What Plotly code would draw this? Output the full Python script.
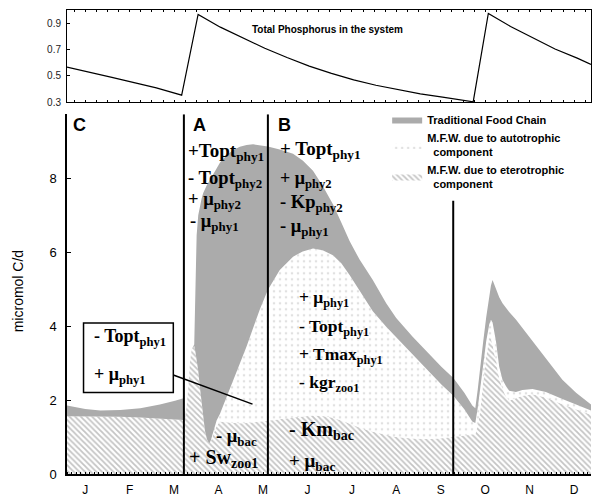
import plotly.graph_objects as go

# ---------------- data (x in months, 0 = 1 Jan) ----------------
month_labels = ["J", "F", "M", "A", "M", "J", "J", "A", "S", "O", "N", "D"]
month_centers = [0.5 + i for i in range(12)]

# Total phosphorus (top panel)
tp_month = [0.09, 0.6, 1.1, 1.6, 2.1, 2.67, 3.04, 3.54, 4.04, 4.54, 5.04, 5.54, 6.04,
            6.54, 7.04, 7.54, 8.04, 8.54, 9.04, 9.23, 9.57, 10.07, 10.57, 11.07, 11.57, 11.88]
tp_value = [0.567, 0.53, 0.49, 0.45, 0.41, 0.355, 0.967, 0.87, 0.79, 0.71, 0.64, 0.575, 0.52,
            0.47, 0.43, 0.395, 0.365, 0.34, 0.315, 0.305, 0.974, 0.875, 0.79, 0.705, 0.635, 0.588]

# Carbon flows (main panel): cumulative levels
flow_month = [0.09, 0.50, 0.84, 1.29, 1.74, 2.18, 2.52, 2.71, 2.745, 2.78, 2.82, 2.86, 2.895,
              2.953, 2.98, 3.007, 3.043, 3.081, 3.119, 3.155, 3.194, 3.238, 3.29, 3.328, 3.366,
              3.407, 3.456, 3.53, 3.681, 3.822, 3.979, 4.13, 4.278, 4.428, 4.608, 4.877, 5.176,
              5.393, 5.625, 5.842, 6.074, 6.262, 6.448, 6.673, 6.971, 7.272, 7.497, 7.862, 8.244,
              8.513, 8.783, 9.03, 9.209, 9.277, 9.333, 9.389, 9.456, 9.523, 9.591, 9.629, 9.665,
              9.741, 9.815, 9.889, 9.966, 10.039, 10.19, 10.338, 10.563, 10.864, 11.236, 11.544, 11.88]
# top of heterotrophic microbial food web (M.F.W.) layer
hetero_level = [1.56, 1.56, 1.56, 1.55, 1.53, 1.50, 1.48, 1.46, 1.49, 1.80, 2.34, 3.06, 3.37,
                3.46, 3.30, 3.10, 2.79, 2.34, 1.89, 1.55, 1.17, 0.95, 0.82, 0.90, 1.00,
                1.15, 1.30, 1.42, 1.40, 1.38, 1.37, 1.38, 1.40, 1.41, 1.43, 1.48, 1.53,
                1.56, 1.58, 1.57, 1.52, 1.45, 1.36, 1.26, 1.14, 1.05, 1.00, 0.96, 0.95,
                0.97, 1.00, 1.04, 1.07, 1.08, 1.30, 1.75, 2.50, 3.20, 3.68, 3.65, 3.50,
                3.00, 2.60, 2.30, 2.10, 1.98, 2.05, 2.12, 2.16, 2.07, 1.89, 1.75, 1.60]
# top of autotrophic M.F.W. layer (stacked on heterotrophic)
auto_level = [1.56, 1.56, 1.56, 1.55, 1.53, 1.50, 1.48, 1.46, 1.49, 1.80, 2.34, 3.06, 3.37,
              3.46, 3.30, 3.10, 2.79, 2.34, 1.89, 1.55, 1.17, 0.95, 0.82, 0.92, 1.08,
              1.27, 1.45, 1.62, 2.07, 2.50, 2.96, 3.45, 3.95, 4.45, 4.98, 5.52, 5.88,
              6.02, 6.10, 6.05, 5.92, 5.70, 5.38, 4.95, 4.40, 3.98, 3.70, 3.25, 2.75,
              2.42, 2.12, 1.75, 1.42, 1.38, 1.80, 2.30, 2.95, 3.60, 4.05, 4.17, 4.10,
              3.60, 2.90, 2.55, 2.38, 2.25, 2.22, 2.27, 2.30, 2.22, 2.03, 1.88, 1.72]
# top of traditional food chain layer (total)
total_level = [1.85, 1.76, 1.72, 1.73, 1.78, 1.88, 1.98, 2.05, 1.55, 1.80, 2.34, 3.06, 3.37,
               3.50, 5.00, 6.46, 7.00, 7.25, 7.45, 7.60, 7.72, 7.82, 7.92, 8.00, 8.08,
               8.17, 8.27, 8.42, 8.62, 8.76, 8.85, 8.90, 8.92, 8.90, 8.86, 8.78, 8.66,
               8.48, 8.20, 7.80, 7.30, 6.80, 6.30, 5.80, 5.25, 4.62, 4.22, 3.72, 3.23,
               2.90, 2.60, 2.20, 1.85, 1.78, 2.30, 2.95, 3.60, 4.25, 4.85, 5.10, 5.25,
               5.00, 4.78, 4.62, 4.50, 4.38, 4.18, 3.95, 3.60, 3.15, 2.55, 2.20, 1.88]

# period boundaries (months) and their top (micromol C/d)
boundary_month = [2.72, 4.61, 8.78]
boundary_top = [9.73, 9.73, 7.39]

XR = [0.09, 11.88]
Y2R = [0, 9.73]

SERIF = "Liberation Serif"
SANS = "Liberation Sans"

fig = go.Figure()

fig.add_trace(go.Scatter(x=tp_month, y=tp_value, mode="lines",
                         line=dict(color="black", width=1.2),
                         xaxis="x", yaxis="y", showlegend=False, hoverinfo="skip"))

fig.add_trace(go.Scatter(
    x=flow_month, y=hetero_level, mode="lines", line=dict(width=0, color="#999999"),
    fill="tozeroy", fillcolor="white",
    fillpattern=dict(shape="\\", size=4, solidity=0.45, fgcolor="#8a8a8a", bgcolor="white"),
    name="M.F.W. due to eterotrophic<br>\u00a0\u00a0component",
    xaxis="x2", yaxis="y2", hoverinfo="skip"))
fig.add_trace(go.Scatter(
    x=flow_month, y=auto_level, mode="lines", line=dict(width=0, color="#cccccc"),
    fill="tonexty", fillcolor="white",
    fillpattern=dict(shape=".", size=6, solidity=0.15, fgcolor="#c4c4c4", bgcolor="white"),
    name="M.F.W. due to autotrophic<br>\u00a0\u00a0component",
    xaxis="x2", yaxis="y2", hoverinfo="skip"))
fig.add_trace(go.Scatter(
    x=flow_month, y=total_level, mode="lines", line=dict(width=0, color="#ababab"),
    fill="tonexty", fillcolor="#ababab",
    name="Traditional Food Chain",
    xaxis="x2", yaxis="y2", hoverinfo="skip"))

shapes = []
for bm, bt in zip(boundary_month, boundary_top):
    shapes.append(dict(type="line", xref="x2", yref="y2", x0=bm, x1=bm, y0=0, y1=bt,
                       line=dict(color="black", width=2)))
# callout box + pointer line
shapes.append(dict(type="rect", xref="x2", yref="y2", x0=0.462, x1=2.482, y0=2.204, y1=4.086,
                   line=dict(color="black", width=1.5), fillcolor="white", layer="above"))
shapes.append(dict(type="line", xref="x2", yref="y2", x0=2.482, x1=4.264, y0=2.68, y1=1.89,
                   line=dict(color="black", width=1.5)))

ann = []
def t(x, y, text, size=19, family=SERIF, xanchor="left"):
    ann.append(dict(x=x, y=y, xref="x2", yref="y2", text=text, showarrow=False,
                    xanchor=xanchor, yanchor="middle",
                    font=dict(family=family, size=size, color="black", weight="bold")))

# panel letters
t(0.365, 9.43, "C", 18, SANS, "center")
t(3.08, 9.43, "A", 18, SANS, "center")
t(4.99, 9.43, "B", 18, SANS, "center")
# period A
t(2.775, 8.72, "+Topt<sub>phy1</sub>")
t(2.775, 7.96, "- Topt<sub>phy2</sub>", 18.5)
t(2.775, 7.40, "+ μ<sub>phy2</sub>", 18.5)
t(2.815, 6.80, "- μ<sub>phy1</sub>", 18.5)
# period B
t(4.84, 8.76, "+ Topt<sub>phy1</sub>")
t(4.84, 7.97, "+ μ<sub>phy2</sub>", 18)
t(4.84, 7.33, "- Kp<sub>phy2</sub>", 18.5)
t(4.84, 6.67, "- μ<sub>phy1</sub>", 18.5)
t(5.27, 4.76, "+ μ<sub>phy1</sub>", 17.5)
t(5.27, 3.95, "- Topt<sub>phy1</sub>", 17.5)
t(5.27, 3.20, "+ Tmax<sub>phy1</sub>", 17.5)
t(5.27, 2.45, "- kgr<sub>zoo1</sub>", 17.5)
t(5.05, 1.18, "- Km<sub>bac</sub>", 20)
t(5.05, 0.32, "+ μ<sub>bac</sub>", 19)
t(3.39, 0.995, "- μ<sub>bac</sub>", 18.5)
t(2.79, 0.43, "+ Sw<sub>zoo1</sub>", 20)
# callout box
t(0.645, 3.68, "- Topt<sub>phy1</sub>", 18)
t(0.645, 2.66, "+ μ<sub>phy1</sub>", 18)

# top panel title
ann.append(dict(x=5.955, y=0.851, xref="x", yref="y", text="Total Phosphorus in the system",
                showarrow=False, xanchor="center", yanchor="middle",
                font=dict(family=SANS, size=10, color="black", weight="bold")))
# y-axis title
ann.append(dict(x=-0.0933, y=0.394, xref="paper", yref="paper", text="micromol C/d",
                showarrow=False, textangle=-90, xanchor="center", yanchor="middle",
                font=dict(family=SANS, size=14, color="black")))

fig.update_layout(
    width=592, height=497,
    margin=dict(l=67, r=0, t=10, b=20),
    paper_bgcolor="white", plot_bgcolor="white",
    showlegend=True,
    legend=dict(x=0.611, y=0.795, xanchor="left", yanchor="top",
                traceorder="reversed", bgcolor="rgba(0,0,0,0)",
                font=dict(family=SANS, size=11, color="black", weight="bold"),
                itemwidth=30, tracegroupgap=3),
    xaxis=dict(domain=[0, 1], range=XR, anchor="y", showticklabels=False,
               showline=True, mirror="allticks", linecolor="black", linewidth=1,
               ticks="inside", tickmode="linear", tick0=0, dtick=0.25, ticklen=2,
               tickcolor="black", showgrid=False, zeroline=False),
    yaxis=dict(domain=[0.8009, 1], range=[0.3, 1.0], anchor="x",
               tickvals=[0.3, 0.5, 0.7, 0.9], ticktext=["0.3", "0.5", "0.7", "0.9"],
               ticks="inside", ticklen=3, tickcolor="black",
               tickfont=dict(family=SANS, size=10, color="#222"),
               showline=True, mirror=True, linecolor="black", linewidth=1,
               showgrid=False, zeroline=False, ticklabelstandoff=3),
    xaxis2=dict(domain=[0, 1], range=XR, anchor="y2",
                tickvals=month_centers, ticktext=month_labels, ticks="",
                tickfont=dict(family=SANS, size=12, color="black"),
                showline=True, linecolor="black", linewidth=1.5,
                minor=dict(ticks="inside", tickmode="linear", tick0=0, dtick=0.1,
                           ticklen=2, tickcolor="black"),
                showgrid=False, zeroline=False, ticklabelstandoff=4),
    yaxis2=dict(domain=[0, 0.7752], range=Y2R, anchor="x2",
                tickvals=[0, 2, 4, 6, 8], ticks="inside", ticklen=4, tickcolor="black",
                tickfont=dict(family=SANS, size=13, color="black"),
                showline=True, linecolor="black", linewidth=1.5,
                showgrid=False, zeroline=False, ticklabelstandoff=6),
    shapes=shapes,
    annotations=ann,
)

fig.write_html("out.html")
